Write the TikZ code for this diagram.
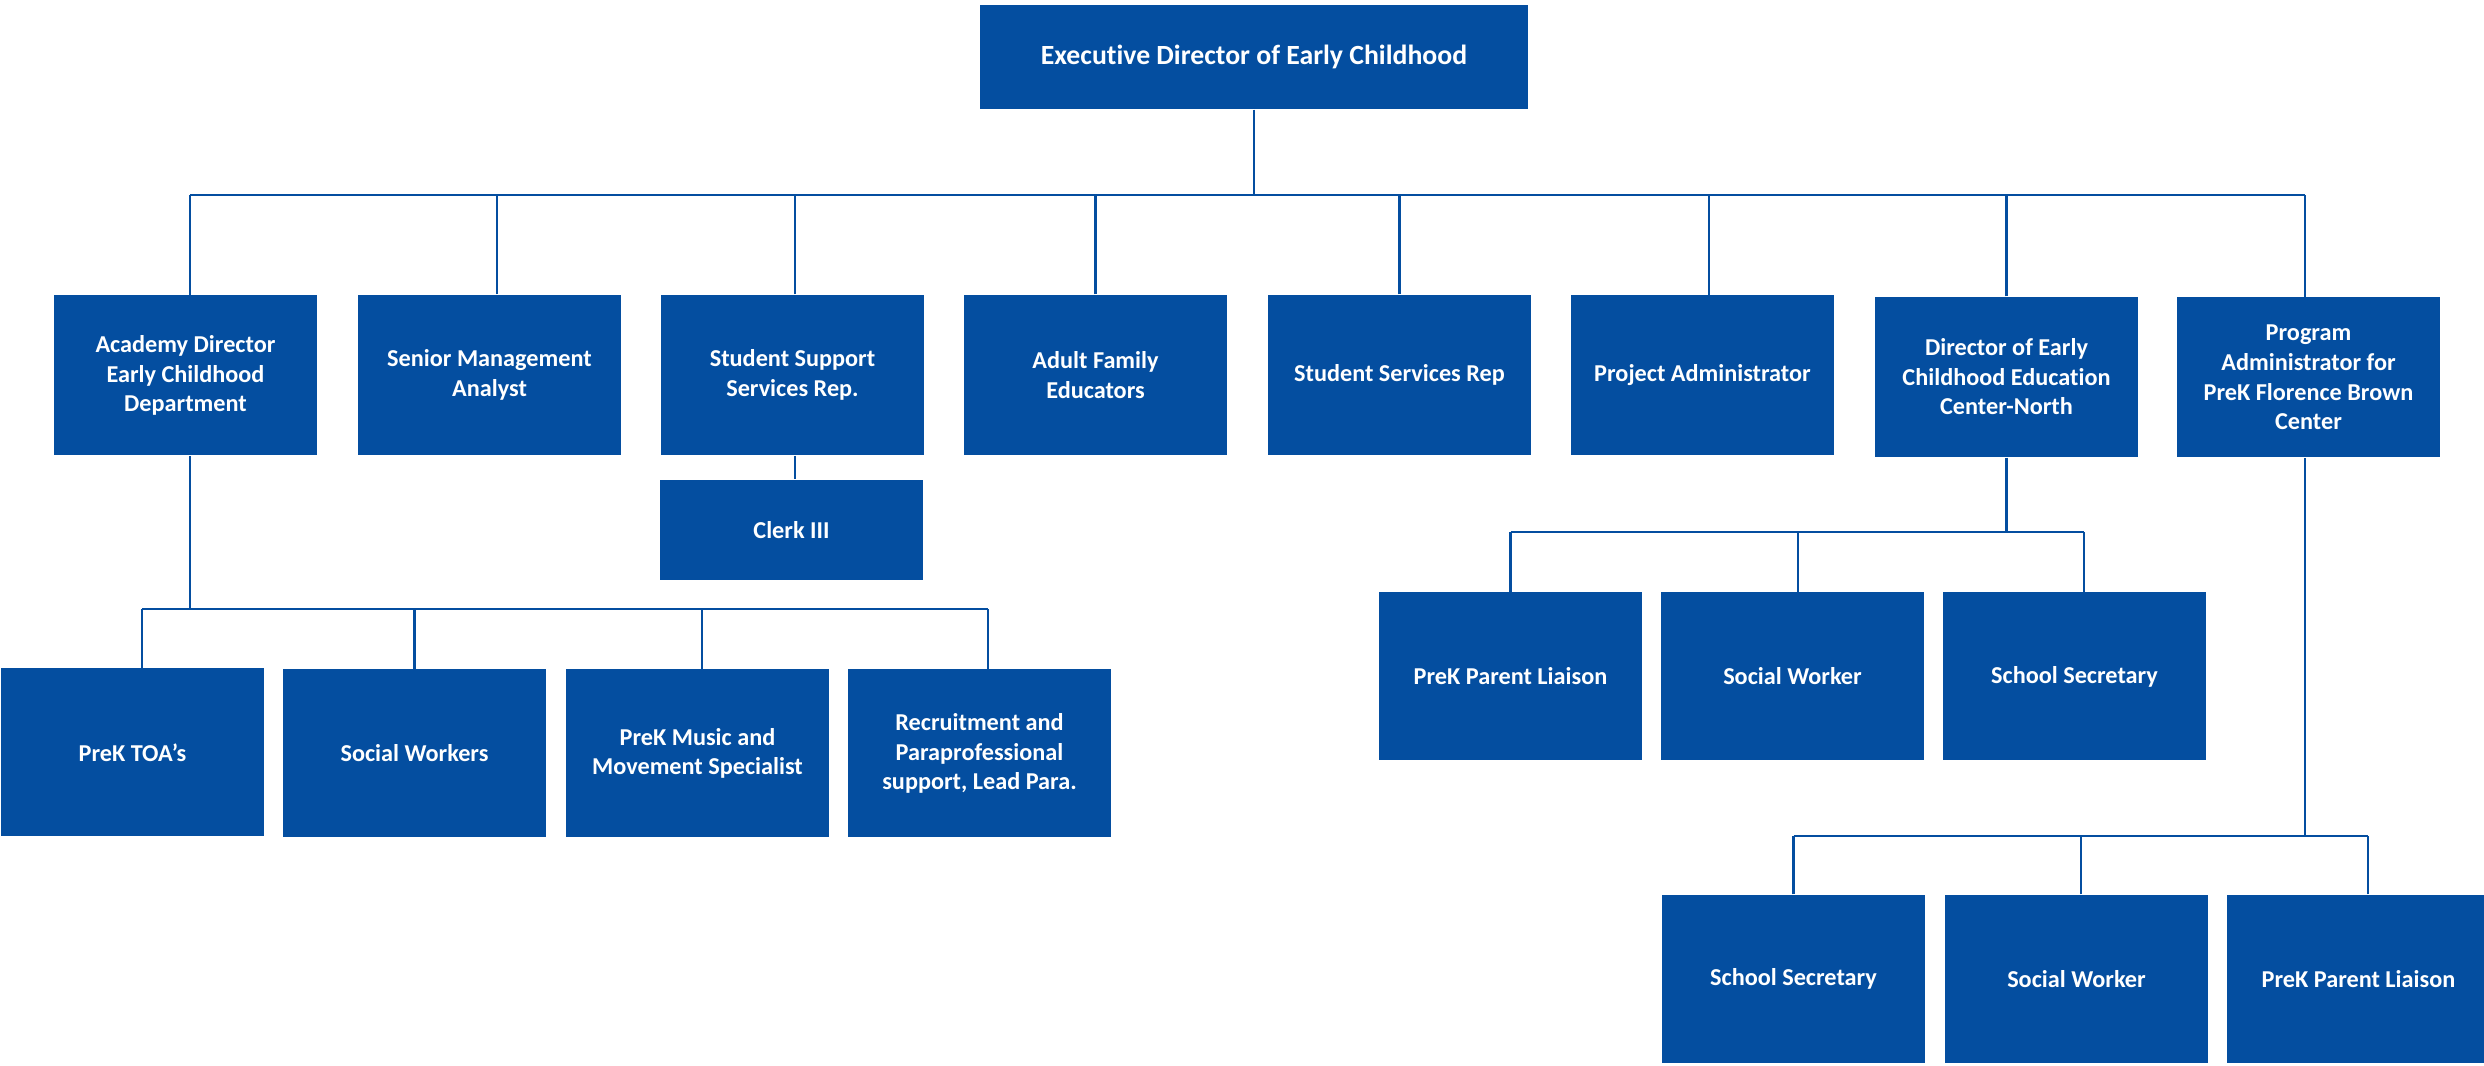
\documentclass[tikz,border=0pt]{standalone}
\usepackage{fontspec}
\setmainfont{Carlito}[Ligatures=NoCommon]
\definecolor{orgblue}{RGB}{4,78,160}

\begin{document}
\begin{tikzpicture}[
    box/.style={fill=orgblue, text=white, font=\fontsize{6.9}{8.4}\selectfont\bfseries, align=center,
        minimum width=2.63cm, minimum height=1.6cm, inner sep=0pt},
    staff/.style={box, minimum height=1.68cm},
    link/.style={orgblue, line width=0.6pt}]
    \clip (0,0) rectangle (24.84,-10.66);

    \node[box, minimum width=5.48cm, minimum height=1.04cm, font=\fontsize{7.9}{9.6}\selectfont\bfseries] (exec) at (12.54,-0.57) {Executive Director of Early Childhood};

    \node[box] (acad) at (1.855,-3.755) {Academy Director\\Early Childhood\\Department};
    \node[box] (senior) at (4.895,-3.75) {Senior Management\\Analyst};
    \node[box] (ssrep) at (7.925,-3.75) {Student Support\\Services Rep.};
    \node[box] (adult) at (10.955,-3.75) {Adult Family\\Educators};
    \node[box] (srvrep) at (13.995,-3.75) {Student Services Rep};
    \node[box] (projadm) at (17.025,-3.755) {Project Administrator};
    \node[box] (dirnorth) at (20.065,-3.77) {Director of Early\\Childhood Education\\Center-North};
    \node[box] (prog) at (23.085,-3.775) {Program\\Administrator for\\PreK Florence Brown\\Center};

    \node[box, minimum height=1cm] (clerk) at (7.915,-5.30) {Clerk III};

    \node[staff] (toa) at (1.325,-7.525) {PreK TOA’s};
    \node[staff] (socw) at (4.145,-7.535) {Social Workers};
    \node[staff] (music) at (6.975,-7.535) {PreK Music and\\Movement Specialist};
    \node[staff] (recruit) at (9.795,-7.535) {Recruitment and\\Paraprofessional\\support, Lead Para.};

    \node[staff] (liaisonN) at (15.105,-6.765) {PreK Parent Liaison};
    \node[staff] (socwN) at (17.925,-6.765) {Social Worker};
    \node[staff] (secN) at (20.745,-6.765) {School Secretary};

    \node[staff] (secS) at (17.935,-9.79) {School Secretary};
    \node[staff] (socwS) at (20.765,-9.79) {Social Worker};
    \node[staff] (liaisonS) at (23.585,-9.79) {PreK Parent Liaison};

    % top level
    \coordinate (bus) at (0,-1.95);
    \draw[link] (exec.south) -- (exec.south |- bus);
    \draw[link] ([xshift=0.045cm]acad.north |- bus) -- ([xshift=-0.035cm]prog.north |- bus);
    \foreach \n/\dx in {acad/0.045,senior/0.075,ssrep/0.025,adult/0,srvrep/0,projadm/0.065,dirnorth/0,prog/-0.035}
        \draw[link] ([xshift=\dx cm]\n.north) -- ([xshift=\dx cm]\n.north |- bus);

    \draw[link] ([xshift=0.025cm]ssrep.south) -- ([xshift=0.025cm]ssrep.south |- clerk.north);

    % academy director staff
    \coordinate (abus) at (0,-6.09);
    \draw[link] ([xshift=0.045cm]acad.south) -- ([xshift=0.045cm]acad.south |- abus);
    \draw[link] ([xshift=0.095cm]toa.north |- abus) -- ([xshift=0.085cm]recruit.north |- abus);
    \foreach \n/\dx in {toa/0.095,socw/0,music/0.045,recruit/0.085}
        \draw[link] ([xshift=\dx cm]\n.north) -- ([xshift=\dx cm]\n.north |- abus);

    % center-north staff
    \coordinate (nbus) at (0,-5.32);
    \draw[link] (dirnorth.south) -- (dirnorth.south |- nbus);
    \draw[link] (liaisonN.north |- nbus) -- ([xshift=0.095cm]secN.north |- nbus);
    \foreach \n/\dx in {liaisonN/0,socwN/0.055,secN/0.095}
        \draw[link] ([xshift=\dx cm]\n.north) -- ([xshift=\dx cm]\n.north |- nbus);

    % florence brown staff
    \coordinate (pbus) at (0,-8.36);
    \draw[link] ([xshift=-0.035cm]prog.south) -- ([xshift=-0.035cm]prog.south |- pbus);
    \draw[link] (secS.north |- pbus) -- ([xshift=0.095cm]liaisonS.north |- pbus);
    \foreach \n/\dx in {secS/0,socwS/0.045,liaisonS/0.095}
        \draw[link] ([xshift=\dx cm]\n.north) -- ([xshift=\dx cm]\n.north |- pbus);
\end{tikzpicture}
\end{document}
